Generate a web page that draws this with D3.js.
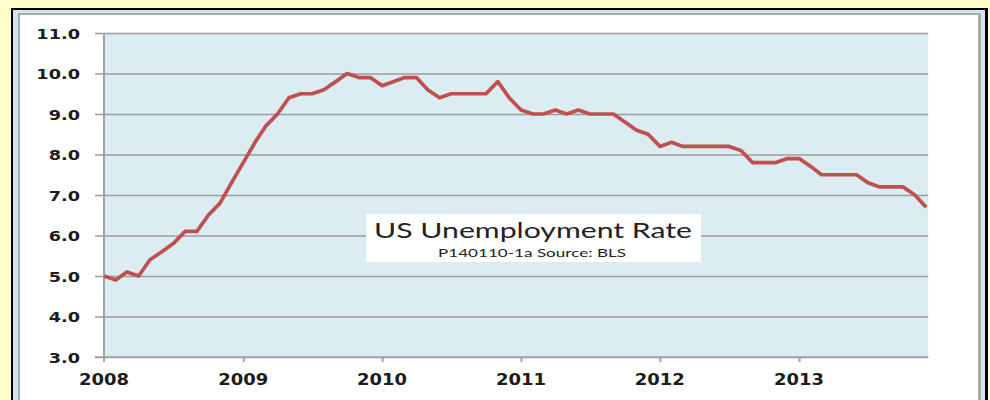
<!DOCTYPE html>
<html>
<head>
<meta charset="utf-8">
<script src="https://cdn.jsdelivr.net/npm/d3@7"></script>
<style>
  html, body { margin: 0; padding: 0; background: #FFFFCC; }
  svg { display: block; }
</style>
</head>
<body>
<svg id="chart" width="990" height="400"></svg>
<script>
// ---- data (US unemployment rate, monthly, Jan 2008 – Dec 2013) ----
const years = [2008, 2009, 2010, 2011, 2012, 2013];
const rate2008 = [5.0, 4.9, 5.1, 5.0, 5.4, 5.6, 5.8, 6.1, 6.1, 6.5, 6.8, 7.3];
const rate2009 = [7.8, 8.3, 8.7, 9.0, 9.4, 9.5, 9.5, 9.6, 9.8, 10.0, 9.9, 9.9];
const rate2010 = [9.7, 9.8, 9.9, 9.9, 9.6, 9.4, 9.5, 9.5, 9.5, 9.5, 9.8, 9.4];
const rate2011 = [9.1, 9.0, 9.0, 9.1, 9.0, 9.1, 9.0, 9.0, 9.0, 8.8, 8.6, 8.5];
const rate2012 = [8.2, 8.3, 8.2, 8.2, 8.2, 8.2, 8.2, 8.1, 7.8, 7.8, 7.8, 7.9];
const rate2013 = [7.9, 7.7, 7.5, 7.5, 7.5, 7.5, 7.3, 7.2, 7.2, 7.2, 7.0, 6.7];
const yTicks = [3, 4, 5, 6, 7, 8, 9, 10, 11];
const xTickYears = [2008, 2009, 2010, 2011, 2012, 2013];
const titleText = "US Unemployment Rate";
const subtitleText = "P140110-1a Source: BLS";

const series = [rate2008, rate2009, rate2010, rate2011, rate2012, rate2013]
  .flatMap((arr, yi) => arr.map((v, m) => ({ date: new Date(years[yi], m, 1), value: v })));

const svg = d3.select("#chart");

// ---- frame ----
svg.append("rect").attr("x", 11).attr("y", 8).attr("width", 977).attr("height", 420).attr("fill", "#000");
svg.append("rect").attr("x", 13).attr("y", 10).attr("width", 972).attr("height", 420).attr("fill", "#d3e5ec");
svg.append("rect").attr("x", 18).attr("y", 13).attr("width", 963).attr("height", 420).attr("fill", "#a9a9a9");
svg.append("rect").attr("x", 20).attr("y", 15).attr("width", 958).attr("height", 420).attr("fill", "#ffffff");

// ---- scales ----
const x = d3.scaleTime()
  .domain([new Date(2008, 0, 1), new Date(2014, 0, 1)])
  .range([104, 938]);
const y = d3.scaleLinear().domain([3, 11]).range([357, 33]);

const lastX = x(series[series.length - 1].date);

// plot background
svg.append("rect")
  .attr("x", x(new Date(2008, 0, 1)))
  .attr("y", y(11))
  .attr("width", lastX + 2 - x(new Date(2008, 0, 1)))
  .attr("height", y(3) - y(11))
  .attr("fill", "#dbecf2");

// gridlines via axis
const grid = svg.append("g")
  .attr("transform", `translate(${lastX + 2},0)`)
  .call(d3.axisLeft(y).tickValues(yTicks).tickSize(lastX + 2 - 95).tickFormat(""));
grid.select(".domain").remove();
grid.selectAll(".tick line").attr("stroke", "#9c9c9c").attr("stroke-width", 1.4);

// left axis line
svg.append("line")
  .attr("x1", x(new Date(2008, 0, 1))).attr("x2", x(new Date(2008, 0, 1)))
  .attr("y1", y(11)).attr("y2", y(3) + 5)
  .attr("stroke", "#a3a3a3").attr("stroke-width", 2);

// bottom axis
const xAxis = svg.append("g")
  .attr("transform", `translate(0,${y(3)})`)
  .call(d3.axisBottom(x)
    .tickValues(xTickYears.slice(1).map(yr => new Date(yr, 0, 1)))
    .tickSize(5).tickSizeOuter(0).tickFormat(""));
xAxis.select(".domain").remove();
xAxis.selectAll(".tick line").attr("stroke", "#a3a3a3").attr("stroke-width", 2);
svg.append("line")
  .attr("x1", 95).attr("x2", lastX + 2)
  .attr("y1", y(3)).attr("y2", y(3))
  .attr("stroke", "#a3a3a3").attr("stroke-width", 1.6);

// stretched text helper
function stretch(sel, k) {
  sel.each(function () {
    const w = this.getComputedTextLength();
    d3.select(this).attr("textLength", w * k).attr("lengthAdjust", "spacingAndGlyphs");
  });
}

// y labels
const yl = svg.append("g").selectAll("text").data(yTicks).join("text")
  .attr("x", 80).attr("y", d => y(d) + 5.5)
  .attr("text-anchor", "end")
  .attr("font-family", "DejaVu Sans")
  .attr("font-weight", "bold")
  .attr("font-size", 14.5)
  .attr("fill", "#1c1c1c")
  .text(d => d.toFixed(1));
stretch(yl, 1.22);

// x labels
const xl = svg.append("g").selectAll("text").data(xTickYears).join("text")
  .attr("x", d => x(new Date(d, 0, 1)))
  .attr("y", 385)
  .attr("text-anchor", "middle")
  .attr("font-family", "DejaVu Sans")
  .attr("font-weight", "bold")
  .attr("font-size", 15.5)
  .attr("fill", "#1c1c1c")
  .text(d => d);
stretch(xl, 1.16);

// line
svg.append("path")
  .datum(series)
  .attr("fill", "none")
  .attr("stroke", "#c0504d")
  .attr("stroke-width", 3.7)
  .attr("stroke-linejoin", "round")
  .attr("d", d3.line().x(d => x(d.date)).y(d => y(d.value)));

// title box
svg.append("rect").attr("x", 366).attr("y", 214).attr("width", 335).attr("height", 48).attr("fill", "#fff");
const t1 = svg.append("text")
  .attr("x", 533).attr("y", 238)
  .attr("text-anchor", "middle")
  .attr("font-family", "Lato")
  .attr("font-size", 22)
  .attr("fill", "#222")
  .text(titleText);
t1.attr("textLength", 318).attr("lengthAdjust", "spacingAndGlyphs");
const t2 = svg.append("text")
  .attr("x", 532).attr("y", 257)
  .attr("text-anchor", "middle")
  .attr("font-family", "Lato")
  .attr("font-size", 11)
  .attr("fill", "#222")
  .text(subtitleText);
t2.attr("textLength", 188).attr("lengthAdjust", "spacingAndGlyphs");
</script>
</body>
</html>
